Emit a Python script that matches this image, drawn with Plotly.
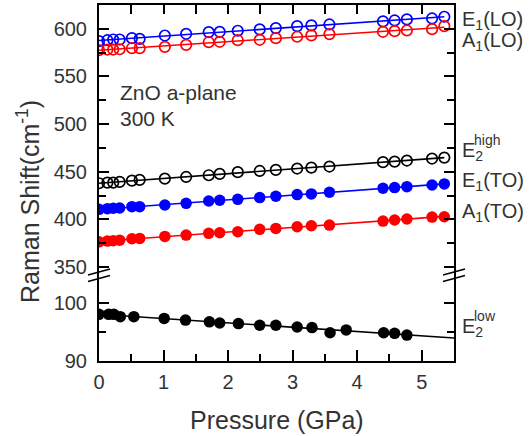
import numpy as np
import plotly.graph_objects as go

# ---- data -------------------------------------------------------------
# pressure points (GPa) for the high-frequency modes
P_TOP = [0.0, 0.13, 0.22, 0.32, 0.51, 0.63, 1.02, 1.35, 1.70, 1.87, 2.15,
         2.49, 2.74, 3.07, 3.29, 3.57, 4.40, 4.58, 4.77, 5.16, 5.35]
E1_LO = [587.0, 588.0, 588.7, 588.7, 590.1, 589.4, 592.9, 594.7, 596.5, 596.8, 597.9,
         599.3, 600.7, 602.8, 603.5, 604.5, 607.7, 608.7, 609.8, 610.8, 612.6]
A1_LO = [577.5, 578.2, 578.2, 578.5, 579.6, 579.6, 581.0, 583.1, 585.9, 586.3, 588.0,
         588.4, 590.1, 591.6, 593.0, 594.4, 596.8, 597.5, 598.2, 599.6, 602.7]
E2_HIGH = [437.9, 438.5, 438.5, 439.3, 440.6, 441.4, 442.7, 444.5, 446.3, 447.7, 449.5,
           450.8, 451.9, 453.3, 454.3, 455.4, 460.0, 460.6, 461.7, 463.8, 464.8]
E1_TO = [410.5, 411.2, 411.6, 411.9, 413.3, 413.3, 415.1, 416.8, 419.3, 420.0, 421.0,
         422.8, 424.2, 426.0, 426.7, 428.4, 432.6, 433.3, 434.3, 436.1, 437.2]
A1_TO = [376.4, 377.2, 377.5, 378.2, 379.6, 380.0, 382.1, 383.5, 385.3, 385.9, 387.0,
         389.5, 390.5, 392.2, 393.3, 394.0, 398.2, 399.3, 400.4, 402.4, 402.7]

# pressure points (GPa) for the low-frequency E2 mode
P_LOW = [0.0, 0.15, 0.23, 0.33, 0.54, 1.01, 1.34, 1.71, 1.87, 2.16, 2.49,
         2.74, 3.07, 3.30, 3.58, 3.83, 4.41, 4.58, 4.77]
E2_LOW = [98.1, 98.1, 98.1, 97.7, 97.7, 97.4, 97.1, 96.8, 96.6, 96.5, 96.2,
          96.2, 95.9, 95.8, 94.9, 95.4, 94.9, 94.8, 94.5]

BLUE = "#0000ff"
RED = "#ff0000"
BLACK = "#000000"
TEXT = "#333333"
FONT = "Liberation Sans, Arial, sans-serif"

# ---- geometry (pixels) ------------------------------------------------
W, H = 531, 436
L, R, T, B = 99, 77, 5, 75
PX0, PX1 = L, W - R
PY0, PY1 = T, H - B
SPLIT = 272  # pixel row of the axis break


def xp(px):
    return (px - PX0) / (PX1 - PX0)


def yp(py):
    return (PY1 - py) / (PY1 - PY0)


split_frac = yp(SPLIT)

fig = go.Figure()


def fit_line(x, y, x_end, color, yaxis):
    k, b = np.polyfit(x, y, 1)
    xs = np.array([0.0, x_end])
    fig.add_trace(go.Scatter(x=xs, y=k * xs + b, mode="lines",
                             line=dict(color=color, width=1.6),
                             xaxis="x2" if yaxis == "y2" else "x", yaxis=yaxis,
                             showlegend=False, hoverinfo="skip"))


def points(x, y, color, filled, yaxis):
    if filled:
        marker = dict(symbol="circle", size=11.5, color=color, line=dict(width=0))
    else:
        marker = dict(symbol="circle-open", size=10.5, color=color, line=dict(width=1.7, color=color))
    fig.add_trace(go.Scatter(x=x, y=y, mode="markers", marker=marker,
                             xaxis="x2" if yaxis == "y2" else "x", yaxis=yaxis,
                             showlegend=False))


top_series = [
    (E1_LO, BLUE, False),
    (A1_LO, RED, False),
    (E2_HIGH, BLACK, False),
    (E1_TO, BLUE, True),
    (A1_TO, RED, True),
]
for ys, c, f in top_series:
    fit_line(P_TOP, ys, max(P_TOP), c, "y2")
fit_line(P_LOW, E2_LOW, 5.5, BLACK, "y")
for ys, c, f in top_series:
    points(P_TOP, ys, c, f, "y2")
points(P_LOW, E2_LOW, BLACK, True, "y")

axis_common = dict(showline=True, linecolor="black", linewidth=2,
                   ticks="inside", tickcolor="black", tickwidth=2,
                   showgrid=False, zeroline=False,
                   tickfont=dict(family=FONT, size=20, color=TEXT))

fig.update_layout(
    width=W, height=H,
    margin=dict(l=L, r=R, t=T, b=B),
    paper_bgcolor="white", plot_bgcolor="white",
    font=dict(family=FONT, color=TEXT),
    xaxis=dict(axis_common, range=[0, 5.5], anchor="y", domain=[0, 1],
               tickvals=[0, 1, 2, 3, 4, 5], ticklen=11, mirror=False,
               minor=dict(tickvals=[0.5, 1.5, 2.5, 3.5, 4.5], ticklen=7,
                          tickwidth=2, tickcolor="black", ticks="inside"),
               ticklabelstandoff=2),
    xaxis2=dict(axis_common, range=[0, 5.5], anchor="y2", side="top", domain=[0, 1],
                matches="x", tickvals=[0.5 * i for i in range(11)], ticklen=9,
                showticklabels=False, mirror=False),
    yaxis=dict(axis_common, domain=[0, split_frac], range=[90, 90 + (PY1 - SPLIT) / 5.76],
               tickvals=[90, 100], ticklen=10, mirror="ticks",
               minor=dict(tickvals=[95], ticklen=7, tickwidth=2, tickcolor="black",
                          ticks="inside"),
               ticklabelstandoff=6),
    yaxis2=dict(axis_common, domain=[split_frac, 1],
                range=[350 - (SPLIT - 267) / 0.953, 350 + (SPLIT - PY0) / 0.953 - (SPLIT - 267) / 0.953],
                tickvals=[350, 400, 450, 500, 550, 600], ticklen=10, mirror="ticks",
                minor=dict(tickvals=[375, 425, 475, 525, 575, 625], ticklen=7, tickwidth=2,
                           tickcolor="black", ticks="inside"),
                ticklabelstandoff=6),
)

# axis break marks on both vertical axes
for xc in (PX0, PX1):
    for dy in (0, 6.5):
        fig.add_shape(type="line", xref="paper", yref="paper",
                      x0=xp(xc - 11), y0=yp(SPLIT + 3 + dy),
                      x1=xp(xc + 11), y1=yp(SPLIT - 3 + dy),
                      line=dict(color="black", width=1.6))


def label(text, px, py, size=20, anchor="left"):
    fig.add_annotation(text=text, x=xp(px), y=yp(py), xref="paper", yref="paper",
                       xanchor=anchor, yanchor="middle", showarrow=False,
                       font=dict(family=FONT, size=size, color=TEXT))


# axis titles
label("Pressure (GPa)", (PX0 + PX1) / 2, 420, size=25, anchor="center")
fig.add_annotation(text="Raman Shift(cm<sup>-1</sup>)", x=xp(28), y=yp(202),
                   xref="paper", yref="paper", textangle=-90, showarrow=False,
                   xanchor="center", yanchor="middle",
                   font=dict(family=FONT, size=25, color=TEXT))

# sample description
label("ZnO a-plane", 118, 92, size=21)
label("300 K", 118, 118, size=21)

# mode labels
label("E<sub>1</sub>(LO)", 460, 20)
label("A<sub>1</sub>(LO)", 460, 41)
label("E<sub>1</sub>(TO)", 460, 181)
label("A<sub>1</sub>(TO)", 460, 212)
label("E<sub>2</sub>", 460, 152)
label("high", 472, 140, size=14)
label("E<sub>2</sub>", 460, 327)
label("low", 472, 316, size=14)

fig.write_html("out.html")
